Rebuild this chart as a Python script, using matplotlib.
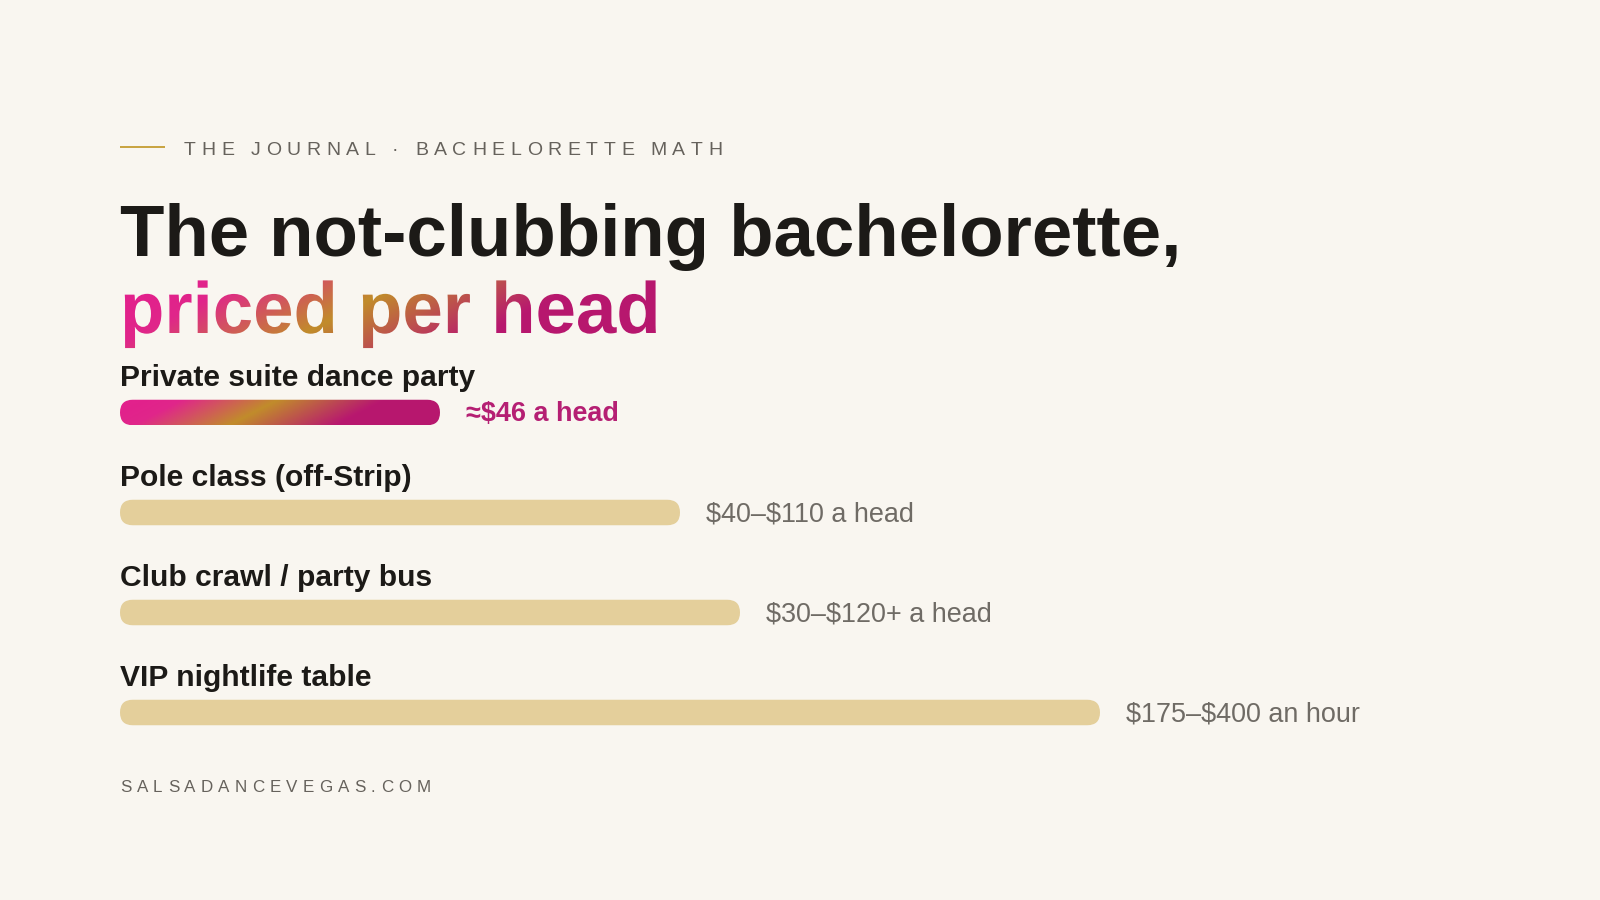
import numpy as np
import matplotlib
matplotlib.use("Agg")
import matplotlib.pyplot as plt
from matplotlib.patches import FancyBboxPatch, PathPatch
from matplotlib.colors import LinearSegmentedColormap
from matplotlib.font_manager import FontProperties
from matplotlib.textpath import TextPath, TextToPath
from matplotlib.transforms import Affine2D

# ---- data ----
categories = ["Private suite dance party", "Pole class (off-Strip)",
              "Club crawl / party bus", "VIP nightlife table"]
bar_score = [32, 56, 62, 98]          # bar length on a 0-100 track
value_labels = ["\u2248\\$46 a head", "\\$40\u2013\\$110 a head",
                "\\$30\u2013\\$120+ a head", "\\$175\u2013\\$400 an hour"]
highlight = 0                          # first row gets the gradient

eyebrow = "THE JOURNAL \u00b7 BACHELORETTE MATH"
title_1 = "The not-clubbing bachelorette,"
title_2 = "priced per head"
footer = "SALSADANCEVEGAS.COM"

# ---- style ----
BG = "#f9f6f0"
INK = "#1c1a17"
GREY = "#6f6b65"
EYEBROW_GREY = "#66625c"
BEIGE = "#e4cf9b"
GOLD_LINE = "#c9a544"
MAGENTA = "#b51f73"
FONT = "Liberation Sans"
grad_cmap = LinearSegmentedColormap.from_list(
    "pinkgold", [(0.0, "#e2218c"), (0.12, "#e0268a"), (0.42, "#c18c2b"),
                 (0.75, "#b8186f"), (1.0, "#b7176e")])

PX = 72 / 100  # points per pixel at dpi 100

fig = plt.figure(figsize=(16, 9), dpi=100)
fig.patch.set_facecolor(BG)

# overlay axes in pixel units (y down) for the heading text
ax = fig.add_axes([0, 0, 1, 1])
ax.set_xlim(0, 1600)
ax.set_ylim(900, 0)
ax.axis("off")


def spaced_text(x, y, s, size_px, spacing_px, color, weight="normal"):
    """Draw text one character at a time to get letter spacing."""
    fp = FontProperties(family=FONT, size=size_px * PX, weight=weight)
    t2p = TextToPath()
    for ch in s:
        ax.text(x, y, ch, fontproperties=fp, color=color, va="baseline", ha="left")
        if ch == " ":
            w = 0.278 * size_px
        else:
            w = t2p.get_text_width_height_descent(ch, fp, ismath=False)[0] / PX
        x += w + spacing_px


def gradient_image(x0, x1, y0, y1, clip, slant=1.9):
    xs, ys = np.meshgrid(np.linspace(x0, x1, 400), np.linspace(y0, y1, 60))
    t = ((xs - x0) + slant * (ys - (y0 + y1) / 2)) / (x1 - x0)
    rgb = grad_cmap(np.clip(t, 0, 1))
    im = ax.imshow(rgb, extent=(x0, x1, y1, y0), origin="upper",
                   aspect="auto", interpolation="bilinear", zorder=3)
    im.set_clip_path(clip)
    return im


# eyebrow
ax.plot([120, 165], [147, 147], color=GOLD_LINE, lw=2 * PX, solid_capstyle="butt")
spaced_text(184, 155, eyebrow, 19.5, 5.6, EYEBROW_GREY, weight="medium")

# title
ax.text(120, 256, title_1, family=FONT, weight="bold", fontsize=72.6 * PX,
        color=INK, va="baseline", ha="left")
tp = TextPath((0, 0), title_2, size=72.6, prop=FontProperties(family=FONT, weight="bold"))
tp_patch = PathPatch(tp, transform=Affine2D().scale(1, -1).translate(120, 333) + ax.transData,
                     facecolor="none", edgecolor="none")
ax.add_patch(tp_patch)
gradient_image(118, 664, 272, 350, tp_patch)

# footer
spaced_text(120, 792, footer, 17, 5.2, EYEBROW_GREY)

ax.set_xlim(0, 1600)
ax.set_ylim(900, 0)

# ---- bars: 0-100 track from x=120 to x=1120 px, rows 100 px apart ----
bx = fig.add_axes([120 / 1600, (900 - 762.5) / 900, 1000 / 1600, 400 / 900])
bx.set_xlim(0, 100)
bx.set_ylim(3.5, -0.5)
bx.axis("off")
bx.patch.set_alpha(0)

h = 0.255
aspect = 0.1  # y-units per x-unit for equal pixel rounding
for i, (cat, val, lab) in enumerate(zip(categories, bar_score, value_labels)):
    bar = FancyBboxPatch((0, i - h / 2), val, h,
                         boxstyle=f"round,pad=0,rounding_size={h / aspect / 2}",
                         mutation_aspect=aspect, linewidth=0,
                         facecolor=BEIGE if i != highlight else "none")
    bx.add_patch(bar)
    if i == highlight:
        xs, ys = np.meshgrid(np.linspace(0, val, 400), np.linspace(-h / 2, h / 2, 40))
        # slant: colour bands lean across the bar height
        t = (xs + 1.9 * (ys / 0.01) * 0.1) / val
        im = bx.imshow(grad_cmap(np.clip(t, 0, 1)), extent=(0, val, i + h / 2, i - h / 2),
                       origin="upper", aspect="auto", interpolation="bilinear")
        im.set_clip_path(bar)
    bx.text(0, i - 0.265, cat, family=FONT, weight="bold", fontsize=30 * PX,
            color=INK, va="baseline", ha="left")
    bx.text(val + 2.6, i + 0.018, lab, family=FONT,
            weight="bold" if i == highlight else "normal",
            fontsize=27 * PX, color=MAGENTA if i == highlight else GREY,
            va="center", ha="left")

bx.set_xlim(0, 100)
bx.set_ylim(3.5, -0.5)

fig.savefig("out.png", dpi=100, facecolor=BG)
